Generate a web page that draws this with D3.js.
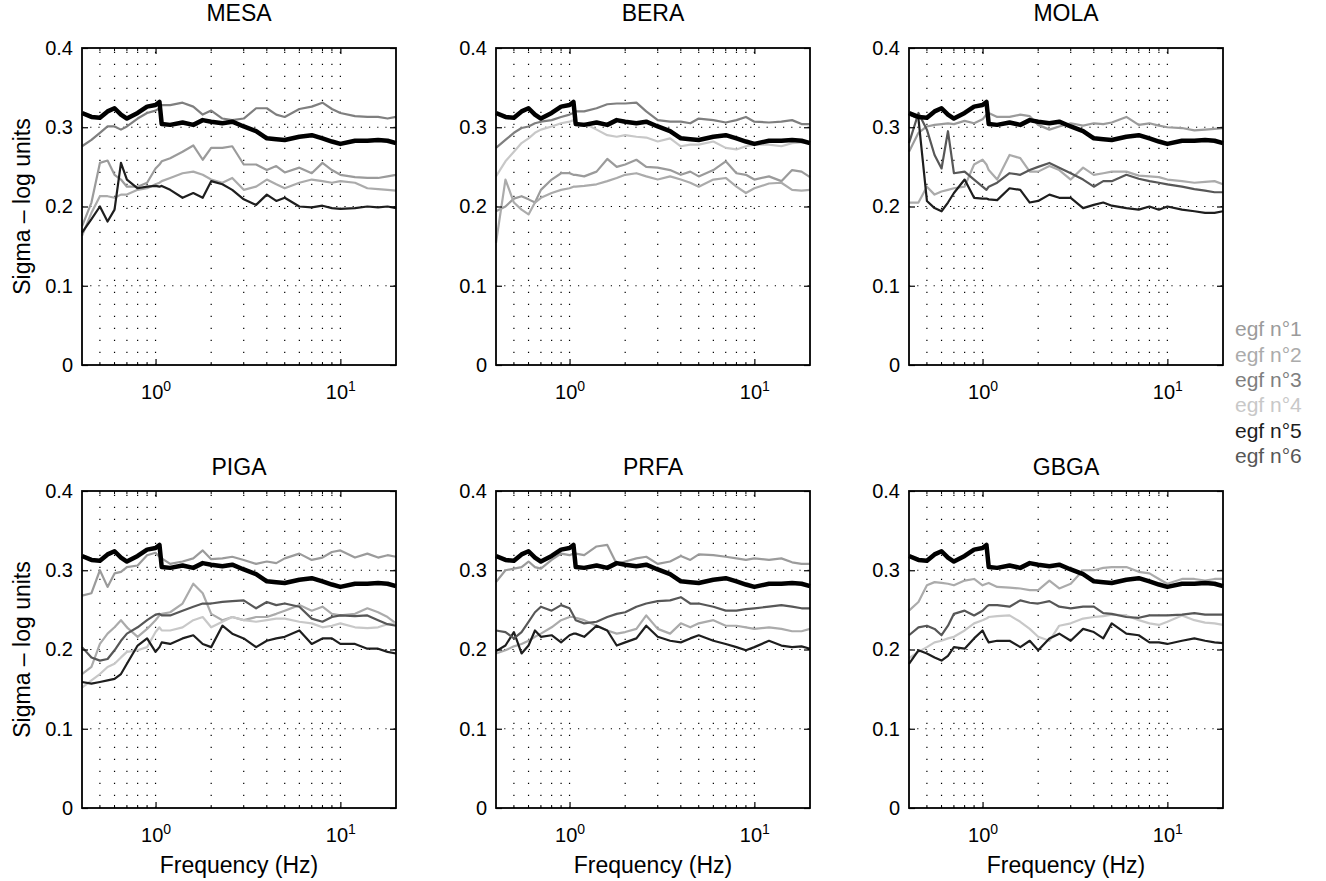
<!DOCTYPE html>
<html>
<head>
<meta charset="utf-8">
<script src="https://cdn.jsdelivr.net/npm/d3@7"></script>
<style>
body { margin: 0; background: #fff; }
text { font-family: Helvetica, "Liberation Sans", Arial, sans-serif; fill: #000; }
</style>
</head>
<body>
<svg id="chart" width="1326" height="881"></svg>
<script>
// frequency grid (Hz) shared by every curve
const freqs = [0.4, 0.45, 0.5, 0.55, 0.6, 0.65, 0.7, 0.8, 0.9, 1.0, 1.05, 1.08, 1.2, 1.4, 1.6, 1.8, 2.0,
	2.3, 2.6, 3.0, 3.5, 4.0, 4.5, 5.0, 6.0, 7.0, 8.0, 9.0, 10, 12, 14, 16, 18, 20];

// thick black curve, the same in every panel
const meanSigma = [0.318, 0.313, 0.312, 0.320, 0.324, 0.316, 0.311, 0.318, 0.326, 0.328, 0.332, 0.304,
	0.303, 0.306, 0.303, 0.309, 0.307, 0.305, 0.307, 0.301, 0.295, 0.286, 0.285, 0.284, 0.288, 0.290,
	0.286, 0.282, 0.279, 0.283, 0.283, 0.284, 0.283, 0.280];

const stations = ["MESA", "BERA", "MOLA", "PIGA", "PRFA", "GBGA"];
const egfLabels = ["egf n°1", "egf n°2", "egf n°3", "egf n°4", "egf n°5", "egf n°6"];
const egfColors = ["#9b9b9b", "#ababab", "#7f7f7f", "#c8c8c8", "#1e1e1e", "#575757"];

const yTicks = [0, 0.1, 0.2, 0.3, 0.4];
const yGrid = [0.1, 0.2, 0.3];
const xTicks = [1, 10];
const xMinor = [0.5, 0.6, 0.7, 0.8, 0.9, 2, 3, 4, 5, 6, 7, 8, 9];

// one row per egf (n°1 .. n°6), null when the station has no curve for it
const mesa = [
	[0.175, 0.205, 0.255, 0.258, 0.240, 0.234, 0.225, 0.225, 0.230, 0.248, 0.253, 0.257, 0.261, 0.269, 0.277, 0.259, 0.274, 0.274, 0.276, 0.253, 0.253, 0.246, 0.251, 0.243, 0.249, 0.242, 0.255, 0.246, 0.240, 0.237, 0.236, 0.236, 0.238, 0.240],
	[0.163, 0.192, 0.213, 0.213, 0.211, 0.215, 0.215, 0.221, 0.223, 0.228, 0.230, 0.232, 0.236, 0.242, 0.244, 0.240, 0.234, 0.230, 0.236, 0.221, 0.225, 0.234, 0.228, 0.223, 0.230, 0.234, 0.232, 0.230, 0.232, 0.230, 0.223, 0.222, 0.221, 0.220],
	[0.276, 0.284, 0.293, 0.301, 0.301, 0.297, 0.301, 0.311, 0.318, 0.321, 0.324, 0.328, 0.328, 0.331, 0.326, 0.316, 0.321, 0.311, 0.309, 0.311, 0.324, 0.324, 0.316, 0.313, 0.323, 0.326, 0.331, 0.323, 0.318, 0.314, 0.313, 0.313, 0.311, 0.313],
	null,
	[0.167, 0.184, 0.200, 0.181, 0.196, 0.255, 0.234, 0.223, 0.225, 0.226, 0.225, 0.226, 0.221, 0.211, 0.217, 0.211, 0.232, 0.228, 0.221, 0.209, 0.202, 0.215, 0.207, 0.211, 0.200, 0.199, 0.201, 0.198, 0.197, 0.198, 0.200, 0.199, 0.200, 0.198],
	null
];
const bera = [
	[0.194, 0.200, 0.210, 0.213, 0.209, 0.205, 0.221, 0.234, 0.242, 0.242, 0.240, 0.240, 0.238, 0.244, 0.260, 0.250, 0.253, 0.259, 0.250, 0.249, 0.246, 0.240, 0.244, 0.238, 0.246, 0.257, 0.242, 0.240, 0.234, 0.238, 0.232, 0.246, 0.244, 0.237],
	[0.154, 0.234, 0.205, 0.196, 0.190, 0.205, 0.211, 0.217, 0.221, 0.223, 0.225, 0.225, 0.226, 0.228, 0.232, 0.236, 0.240, 0.242, 0.238, 0.234, 0.238, 0.234, 0.230, 0.225, 0.234, 0.236, 0.225, 0.217, 0.223, 0.229, 0.230, 0.221, 0.220, 0.221],
	[0.274, 0.284, 0.293, 0.299, 0.301, 0.305, 0.307, 0.309, 0.313, 0.316, 0.318, 0.320, 0.320, 0.324, 0.329, 0.330, 0.330, 0.331, 0.320, 0.309, 0.307, 0.307, 0.305, 0.311, 0.309, 0.306, 0.309, 0.313, 0.307, 0.306, 0.307, 0.309, 0.304, 0.304],
	[0.238, 0.257, 0.269, 0.280, 0.286, 0.293, 0.297, 0.301, 0.305, 0.307, 0.309, 0.303, 0.305, 0.297, 0.290, 0.288, 0.290, 0.288, 0.287, 0.282, 0.286, 0.276, 0.278, 0.278, 0.282, 0.274, 0.272, 0.276, 0.278, 0.278, 0.276, 0.280, 0.281, 0.282],
	null,
	null
];
const mola = [
	[0.269, 0.293, 0.301, 0.303, 0.304, 0.305, 0.304, 0.308, 0.305, 0.310, 0.316, 0.318, 0.313, 0.313, 0.316, 0.314, 0.303, 0.297, 0.301, 0.305, 0.302, 0.305, 0.304, 0.306, 0.313, 0.303, 0.305, 0.302, 0.300, 0.299, 0.296, 0.297, 0.298, 0.299],
	[0.205, 0.205, 0.225, 0.215, 0.219, 0.221, 0.223, 0.225, 0.253, 0.259, 0.253, 0.246, 0.234, 0.265, 0.261, 0.244, 0.244, 0.251, 0.246, 0.234, 0.249, 0.240, 0.242, 0.244, 0.244, 0.239, 0.238, 0.237, 0.234, 0.232, 0.230, 0.231, 0.232, 0.228],
	null,
	null,
	[0.316, 0.311, 0.207, 0.198, 0.194, 0.205, 0.217, 0.234, 0.211, 0.210, 0.210, 0.209, 0.208, 0.223, 0.221, 0.205, 0.207, 0.215, 0.211, 0.211, 0.198, 0.202, 0.205, 0.201, 0.198, 0.196, 0.200, 0.196, 0.200, 0.196, 0.194, 0.192, 0.192, 0.194],
	[0.280, 0.318, 0.297, 0.265, 0.248, 0.295, 0.242, 0.244, 0.234, 0.225, 0.221, 0.225, 0.230, 0.242, 0.240, 0.246, 0.250, 0.255, 0.249, 0.242, 0.234, 0.225, 0.232, 0.232, 0.240, 0.235, 0.232, 0.230, 0.228, 0.225, 0.222, 0.220, 0.218, 0.218]
];
const piga = [
	[0.268, 0.271, 0.300, 0.279, 0.296, 0.298, 0.304, 0.306, 0.319, 0.322, 0.317, 0.315, 0.308, 0.311, 0.315, 0.325, 0.314, 0.315, 0.317, 0.313, 0.308, 0.311, 0.309, 0.315, 0.321, 0.313, 0.316, 0.323, 0.325, 0.316, 0.321, 0.316, 0.319, 0.317],
	[0.169, 0.178, 0.207, 0.220, 0.228, 0.237, 0.228, 0.216, 0.226, 0.237, 0.243, 0.245, 0.247, 0.258, 0.283, 0.271, 0.245, 0.237, 0.241, 0.237, 0.241, 0.241, 0.245, 0.249, 0.256, 0.249, 0.254, 0.245, 0.243, 0.245, 0.252, 0.247, 0.241, 0.233],
	null,
	[0.152, 0.161, 0.169, 0.178, 0.182, 0.190, 0.197, 0.199, 0.203, 0.222, 0.228, 0.224, 0.224, 0.228, 0.237, 0.241, 0.228, 0.235, 0.241, 0.237, 0.235, 0.237, 0.239, 0.239, 0.235, 0.233, 0.228, 0.230, 0.233, 0.228, 0.227, 0.228, 0.232, 0.233],
	[0.159, 0.157, 0.159, 0.161, 0.163, 0.169, 0.182, 0.205, 0.214, 0.197, 0.203, 0.209, 0.207, 0.214, 0.218, 0.207, 0.203, 0.230, 0.220, 0.214, 0.203, 0.211, 0.214, 0.216, 0.224, 0.207, 0.214, 0.214, 0.207, 0.207, 0.201, 0.201, 0.197, 0.195],
	[0.203, 0.190, 0.186, 0.188, 0.199, 0.211, 0.220, 0.228, 0.237, 0.244, 0.245, 0.243, 0.243, 0.249, 0.254, 0.258, 0.258, 0.260, 0.261, 0.262, 0.252, 0.260, 0.256, 0.258, 0.254, 0.239, 0.235, 0.241, 0.243, 0.242, 0.243, 0.237, 0.232, 0.230]
];
const prfa = [
	[0.285, 0.300, 0.302, 0.304, 0.311, 0.304, 0.302, 0.313, 0.321, 0.319, 0.321, 0.321, 0.319, 0.330, 0.332, 0.308, 0.311, 0.315, 0.317, 0.308, 0.311, 0.318, 0.313, 0.320, 0.319, 0.317, 0.315, 0.313, 0.315, 0.313, 0.315, 0.310, 0.308, 0.308],
	[0.195, 0.199, 0.204, 0.207, 0.211, 0.216, 0.220, 0.228, 0.237, 0.241, 0.241, 0.240, 0.237, 0.230, 0.224, 0.220, 0.222, 0.226, 0.243, 0.226, 0.220, 0.233, 0.228, 0.233, 0.237, 0.230, 0.230, 0.228, 0.226, 0.228, 0.226, 0.223, 0.223, 0.226],
	null,
	null,
	[0.198, 0.205, 0.222, 0.195, 0.205, 0.224, 0.216, 0.218, 0.209, 0.218, 0.220, 0.220, 0.216, 0.230, 0.224, 0.205, 0.209, 0.214, 0.230, 0.216, 0.211, 0.209, 0.214, 0.218, 0.211, 0.207, 0.203, 0.199, 0.203, 0.211, 0.205, 0.203, 0.204, 0.201],
	[0.224, 0.222, 0.214, 0.222, 0.235, 0.247, 0.254, 0.249, 0.256, 0.252, 0.243, 0.237, 0.233, 0.235, 0.241, 0.245, 0.247, 0.254, 0.258, 0.261, 0.262, 0.266, 0.258, 0.258, 0.254, 0.249, 0.249, 0.251, 0.252, 0.254, 0.256, 0.254, 0.252, 0.252]
];
const gbga = [
	null,
	[0.249, 0.260, 0.281, 0.285, 0.284, 0.283, 0.281, 0.287, 0.289, 0.281, 0.283, 0.284, 0.279, 0.278, 0.277, 0.275, 0.275, 0.287, 0.277, 0.283, 0.300, 0.300, 0.303, 0.304, 0.304, 0.298, 0.296, 0.289, 0.283, 0.289, 0.289, 0.287, 0.289, 0.289],
	null,
	[0.189, 0.197, 0.203, 0.209, 0.211, 0.214, 0.216, 0.224, 0.233, 0.237, 0.239, 0.241, 0.242, 0.243, 0.235, 0.226, 0.216, 0.211, 0.230, 0.233, 0.239, 0.241, 0.242, 0.244, 0.243, 0.237, 0.233, 0.231, 0.235, 0.243, 0.237, 0.234, 0.233, 0.231],
	[0.182, 0.199, 0.195, 0.190, 0.186, 0.192, 0.203, 0.201, 0.214, 0.224, 0.214, 0.209, 0.211, 0.211, 0.203, 0.211, 0.199, 0.214, 0.220, 0.211, 0.226, 0.222, 0.214, 0.233, 0.220, 0.218, 0.209, 0.209, 0.207, 0.211, 0.214, 0.211, 0.209, 0.208],
	[0.218, 0.228, 0.230, 0.226, 0.218, 0.230, 0.245, 0.249, 0.243, 0.249, 0.254, 0.256, 0.256, 0.254, 0.262, 0.259, 0.258, 0.261, 0.254, 0.252, 0.254, 0.254, 0.246, 0.245, 0.241, 0.240, 0.243, 0.243, 0.243, 0.244, 0.246, 0.244, 0.244, 0.244]
];
const stationData = [mesa, bera, mola, piga, prfa, gbga];

const svg = d3.select("#chart");

const colLeft = [82, 496, 909];
const rowTop = [48, 491];
const titleY = [13, 467];
const width = 314;
const height = 317;

const x = d3.scaleLog().domain([0.4, 20]).range([0, width]);
const y = d3.scaleLinear().domain([0, 0.4]).range([height, 0]);

const line = d3.line()
	.defined(d => d[1] != null)
	.x(d => x(d[0]))
	.y(d => y(d[1]));

stations.forEach((name, i) => {
	const col = i % 3, row = Math.floor(i / 3);
	const g = svg.append("g")
		.attr("transform", "translate(" + colLeft[col] + "," + rowTop[row] + ")");

	// dotted grid
	g.selectAll(".vgrid")
		.data(xMinor.concat(xTicks))
		.enter().append("line")
		.attr("x1", d => x(d)).attr("x2", d => x(d))
		.attr("y1", height).attr("y2", 0)
		.attr("stroke", "#000").attr("stroke-width", 1.2)
		.attr("stroke-dasharray", "1.2,10.8");

	g.selectAll(".hgrid")
		.data(yGrid)
		.enter().append("line")
		.attr("x1", 0).attr("x2", width)
		.attr("y1", d => y(d)).attr("y2", d => y(d))
		.attr("stroke", "#000").attr("stroke-width", 1.2)
		.attr("stroke-dasharray", "1.2,7");

	// egf curves, then the thick black one on top
	stationData[i].forEach((vals, k) => {
		if (!vals) return;
		g.append("path")
			.datum(freqs.map((f, j) => [f, vals[j]]))
			.attr("fill", "none")
			.attr("stroke", egfColors[k])
			.attr("stroke-width", 2.2)
			.attr("stroke-linejoin", "round")
			.attr("d", line);
	});

	g.append("path")
		.datum(freqs.map((f, j) => [f, meanSigma[j]]))
		.attr("fill", "none")
		.attr("stroke", "#000")
		.attr("stroke-width", 4.5)
		.attr("stroke-linejoin", "round")
		.attr("d", line);

	// axes
	const yAxis = d3.axisLeft(y)
		.tickValues(yTicks)
		.tickSizeInner(-6).tickSizeOuter(0)
		.tickPadding(9)
		.tickFormat(d => d === 0 ? "0" : d.toFixed(1));
	const ya = g.append("g").call(yAxis);
	ya.select(".domain").remove();
	ya.selectAll("text").attr("font-size", 20).attr("font-family", null);

	const yRight = d3.axisRight(y).tickValues(yTicks).tickSizeInner(-6).tickSizeOuter(0).tickFormat("");
	const yr = g.append("g").attr("transform", "translate(" + width + ",0)").call(yRight);
	yr.select(".domain").remove();

	const xAxis = d3.axisBottom(x)
		.tickValues(xTicks)
		.tickSizeInner(-6).tickSizeOuter(0)
		.tickPadding(20)
		.tickFormat(() => "");
	const xa = g.append("g").attr("transform", "translate(0," + height + ")").call(xAxis);
	xa.select(".domain").remove();
	xa.selectAll(".tick text")
		.attr("font-size", 20).attr("font-family", null)
		.each(function(d) {
			const t = d3.select(this);
			t.text("10");
			t.append("tspan").attr("dy", "-0.6em").attr("font-size", 14).text(Math.round(Math.log10(d)));
		});

	const xTop = d3.axisTop(x).tickValues(xTicks).tickSizeInner(-6).tickSizeOuter(0).tickFormat("");
	const xt = g.append("g").call(xTop);
	xt.select(".domain").remove();

	// minor ticks top and bottom
	xMinor.forEach(v => {
		g.append("line").attr("x1", x(v)).attr("x2", x(v)).attr("y1", height).attr("y2", height - 3)
			.attr("stroke", "#000").attr("stroke-width", 1);
		g.append("line").attr("x1", x(v)).attr("x2", x(v)).attr("y1", 0).attr("y2", 3)
			.attr("stroke", "#000").attr("stroke-width", 1);
	});
	g.selectAll(".tick line").attr("stroke-width", 1.2);

	g.append("rect")
		.attr("width", width).attr("height", height)
		.attr("fill", "none").attr("stroke", "#000").attr("stroke-width", 1.8);

	svg.append("text")
		.attr("x", colLeft[col] + width / 2)
		.attr("y", titleY[row])
		.attr("dy", "0.35em")
		.attr("text-anchor", "middle")
		.attr("font-size", 23)
		.text(name);

	if (row === 1) {
		svg.append("text")
			.attr("x", colLeft[col] + width / 2)
			.attr("y", 865)
			.attr("dy", "0.35em")
			.attr("text-anchor", "middle")
			.attr("font-size", 23)
			.text("Frequency (Hz)");
	}
	if (col === 0) {
		svg.append("text")
			.attr("transform", "translate(22," + (rowTop[row] + height / 2) + ") rotate(-90)")
			.attr("dy", "0.35em")
			.attr("text-anchor", "middle")
			.attr("font-size", 23)
			.text("Sigma – log units");
	}
});

// legend, as coloured labels
svg.selectAll(".legend")
	.data(egfLabels)
	.enter().append("text")
	.attr("x", 1235)
	.attr("y", (d, i) => 329 + i * 25.3)
	.attr("dy", "0.35em")
	.attr("font-size", 21)
	.style("fill", (d, i) => egfColors[i])
	.text(d => d);
</script>
</body>
</html>
